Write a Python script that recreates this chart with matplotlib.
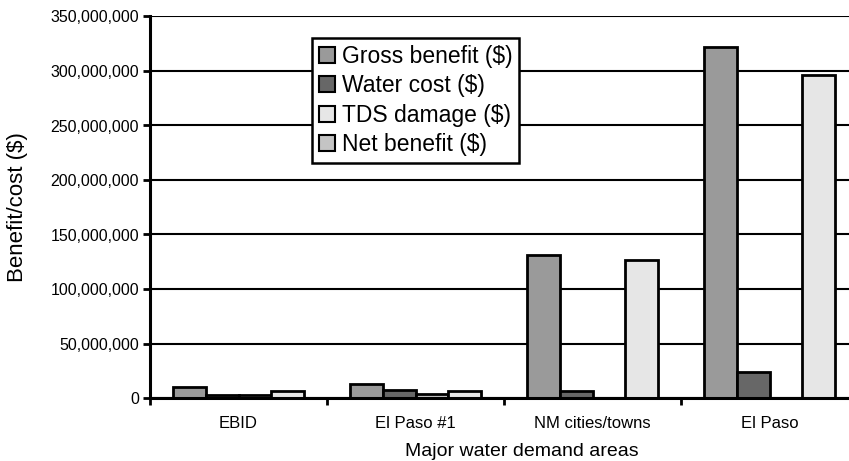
import numpy as np
import matplotlib
matplotlib.use("Agg")
import matplotlib as mpl
import matplotlib.pyplot as plt
from matplotlib.patches import Patch
from matplotlib.ticker import FuncFormatter

mpl.rcParams["font.family"] = ["Liberation Sans", "DejaVu Sans"]

# data (dollars)
areas = ["EBID", "El Paso #1", "NM cities/towns", "El Paso"]
gross_benefit = [10.5e6, 13.0e6, 131.5e6, 322.0e6]
water_cost = [2.5e6, 7.0e6, 6.0e6, 24.0e6]
net_benefit = [2.5e6, 3.5e6, 0.0, 0.0]
tds_damage = [6.0e6, 6.0e6, 127.0e6, 296.0e6]

yticks = np.arange(0, 350e6 + 1, 50e6)

W, H = 849, 461
fig = plt.figure(figsize=(W/100, H/100), dpi=100)
ax = fig.add_axes([150/W, (H-398)/H, 708/W, (398-16.5)/H])

x = np.arange(len(areas))
w = 0.186
ec = "black"
lw = 2.0

ax.set_axisbelow(True)
ax.yaxis.grid(True, color="black", linewidth=1.5)

ax.bar(x - 1.5*w, gross_benefit, w, color="#9a9a9a", edgecolor=ec, linewidth=lw)
ax.bar(x - 0.5*w, water_cost, w, color="#676767", edgecolor=ec, linewidth=lw)
ax.bar(x + 0.5*w, net_benefit, w, color="#c4c4c4", edgecolor=ec, linewidth=lw)
ax.bar(x + 1.5*w, tds_damage, w, color="#e6e6e6", edgecolor=ec, linewidth=lw)

ax.set_xlim(-0.5, len(areas) - 0.5)
ax.set_ylim(0, 350e6)
ax.set_yticks(yticks)
ax.yaxis.set_major_formatter(FuncFormatter(lambda v, p: "{:,.0f}".format(v)))

ax.set_xticks(x)
ax.set_xticklabels(areas)
ax.set_xticks(np.arange(-0.5, len(areas)), minor=True)
ax.tick_params(axis="x", which="major", length=0, labelsize=12, pad=13)
ax.tick_params(axis="x", which="minor", length=5, width=2, direction="out")
ax.tick_params(axis="y", length=5, width=2, labelsize=11.5, pad=3)

for s in ["top", "right"]:
    ax.spines[s].set_visible(False)
for s in ["left", "bottom"]:
    ax.spines[s].set_linewidth(2.2)

ax.set_ylabel("Benefit/cost ($)", fontsize=16)
ax.yaxis.set_label_coords(-122/708, 0.5)
ax.set_xlabel("Major water demand areas", fontsize=14)
ax.xaxis.set_label_coords((522-150)/708, -(443-398)/381.5)

handles = [Patch(facecolor="#9a9a9a", edgecolor=ec, linewidth=1.5),
           Patch(facecolor="#676767", edgecolor=ec, linewidth=1.5),
           Patch(facecolor="#e6e6e6", edgecolor=ec, linewidth=1.5),
           Patch(facecolor="#c4c4c4", edgecolor=ec, linewidth=1.5)]
labels = ["Gross benefit ($)", "Water cost ($)", "TDS damage ($)", "Net benefit ($)"]
leg = fig.legend(handles, labels, loc="upper left",
                 bbox_to_anchor=(312/W, 1 - 38/H), fontsize=16.5,
                 handlelength=0.7, handleheight=0.7, handletextpad=0.3,
                 labelspacing=0.28, borderpad=0.3, borderaxespad=0,
                 fancybox=False, framealpha=1)
leg.get_frame().set_edgecolor("black")
leg.get_frame().set_linewidth(1.8)

plt.savefig("out.png", dpi=100)
